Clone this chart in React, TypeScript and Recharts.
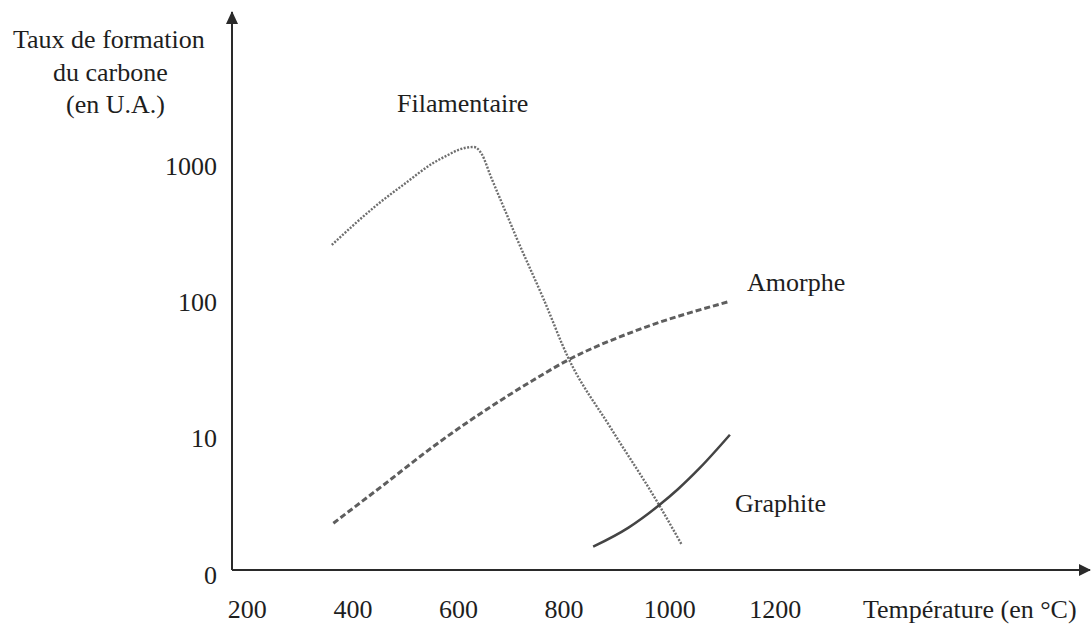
import React from 'react';
import { LineChart, Line, XAxis, YAxis, ReferenceDot } from 'recharts';

// Filamentaire (dotted) - temperature in °C, rate in arbitrary units (log)
const filamentaireTemp = [360, 450, 500, 552, 580, 599, 629, 645, 660, 691, 710, 761, 808, 887, 978, 1023];
const filamentaireRate = [261, 530, 743, 1042, 1192, 1297, 1365, 1192, 851, 440, 294, 105, 38.7, 12.1, 3.33, 1.65];

// Amorphe (dashed)
const amorpheTemp = [363, 458, 552, 742, 808, 931, 1111];
const amorpheRate = [2.38, 4.54, 8.67, 26.7, 37.5, 60.4, 100];

// Graphite (solid)
const graphiteTemp = [855, 922, 978, 1016, 1057, 1114];
const graphiteRate = [1.6, 2.21, 3.18, 4.24, 6.05, 10.6];

const xTicks = [200, 400, 600, 800, 1000, 1200];
const yTicks = [1, 10, 100, 1000];
const yTickLabels: Record<number, string> = { 1: '0', 10: '10', 100: '100', 1000: '1000' };

const xDomain = [171, 1796];
const yDomain = [1.08, 13330];

const toPoints = (temps: number[], rates: number[]) =>
    temps.map((t, i) => ({ temp: t, rate: rates[i] }));

const filamentaire = toPoints(filamentaireTemp, filamentaireRate);
const amorphe = toPoints(amorpheTemp, amorpheRate);
const graphite = toPoints(graphiteTemp, graphiteRate);

const FONT = '"Liberation Serif", "Times New Roman", serif';
const textColor = '#1e1e1e';
const axisColor = '#2a2a2a';

const RightArrow = (p: any) => (
    <path d={`M${p.cx + 1},${p.cy} l-12,-6 l0,12 z`} fill={axisColor} />
);
const UpArrow = (p: any) => (
    <path d={`M${p.cx},${p.cy - 1} l-6,13 l12,0 z`} fill={axisColor} />
);

const label = (text: string, left: number, top: number) => (
    <div
        style={{
            position: 'absolute',
            left,
            top,
            fontFamily: FONT,
            fontSize: 26,
            lineHeight: '30px',
            color: textColor,
            whiteSpace: 'nowrap',
        }}
    >
        {text}
    </div>
);

export default function App() {
    return (
        <div style={{ position: 'absolute', left: 0, top: 0, width: 1091, height: 626, background: '#fff' }}>
            <LineChart
                width={1091}
                height={626}
                margin={{ top: 12, right: 1, bottom: 26, left: 172 }}
            >
                <XAxis
                    dataKey="temp"
                    type="number"
                    domain={xDomain}
                    allowDataOverflow
                    ticks={xTicks}
                    interval={0}
                    height={30}
                    tickLine={false}
                    tickSize={0}
                    tickMargin={30}
                    axisLine={{ stroke: axisColor, strokeWidth: 2 }}
                    tick={{ fill: textColor, fontFamily: FONT, fontSize: 26 }}
                />
                <YAxis
                    dataKey="rate"
                    type="number"
                    scale="log"
                    domain={yDomain}
                    allowDataOverflow
                    ticks={yTicks}
                    interval={0}
                    width={60}
                    tickLine={false}
                    tickSize={0}
                    tickMargin={15}
                    tickFormatter={(v: number) => yTickLabels[v] ?? ''}
                    axisLine={{ stroke: axisColor, strokeWidth: 2 }}
                    tick={{ fill: textColor, fontFamily: FONT, fontSize: 26 }}
                />

                {/* Filamentaire */}
                <Line
                    data={filamentaire}
                    dataKey="rate"
                    type="monotone"
                    stroke="#6e6e6e"
                    strokeWidth={2.4}
                    strokeDasharray="2 1.5"
                    dot={false}
                    isAnimationActive={false}
                />

                {/* Amorphe */}
                <Line
                    data={amorphe}
                    dataKey="rate"
                    type="monotone"
                    stroke="#5e5e5e"
                    strokeWidth={3}
                    strokeDasharray="6 3"
                    dot={false}
                    isAnimationActive={false}
                />

                {/* Graphite */}
                <Line
                    data={graphite}
                    dataKey="rate"
                    type="monotone"
                    stroke="#444"
                    strokeWidth={2.5}
                    dot={false}
                    isAnimationActive={false}
                />

                <ReferenceDot x={xDomain[1]} y={yDomain[0]} shape={RightArrow} ifOverflow="visible" />
                <ReferenceDot x={xDomain[0]} y={yDomain[1]} shape={UpArrow} ifOverflow="visible" />
            </LineChart>

            {label('Taux de formation', 13, 25)}
            {label('du carbone', 53, 58)}
            {label('(en U.A.)', 66, 90)}
            {label('Filamentaire', 397, 89)}
            {label('Amorphe', 747, 268)}
            {label('Graphite', 735, 489)}
            {label('Température (en °C)', 863, 595)}
        </div>
    );
}
